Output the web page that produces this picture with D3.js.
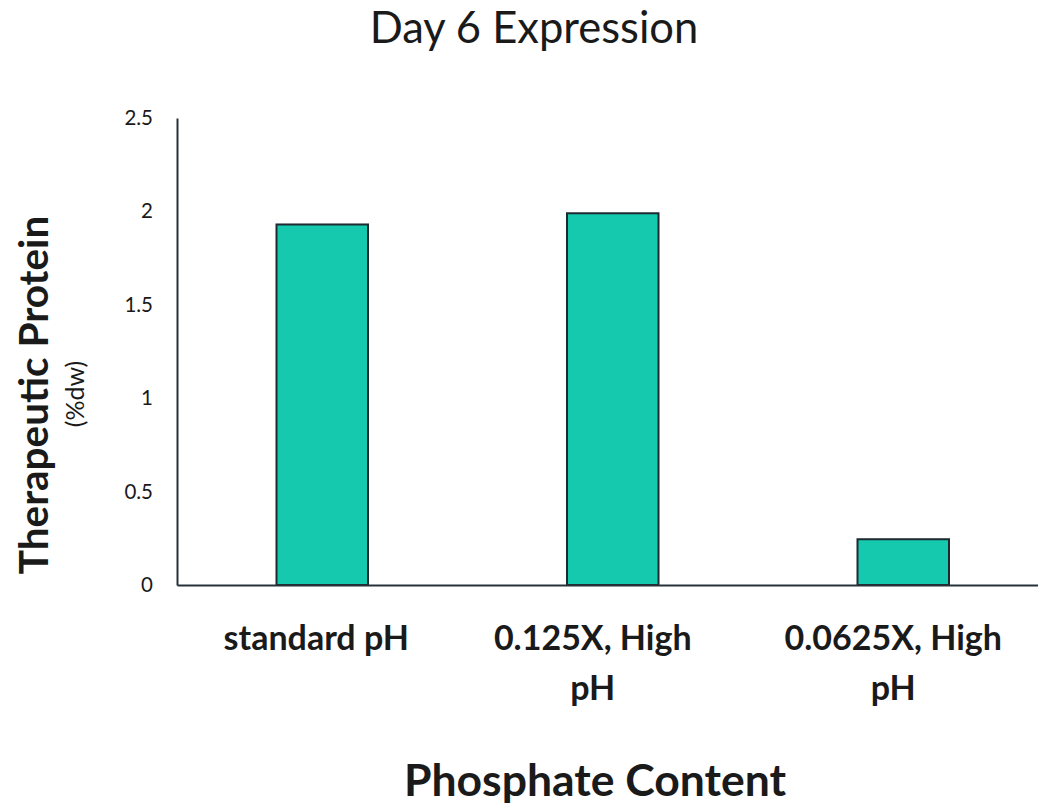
<!DOCTYPE html>
<html>
<head>
<meta charset="utf-8">
<script src="https://cdn.jsdelivr.net/npm/d3@7"></script>
<style>
  html, body { margin: 0; padding: 0; background: #fff; }
  svg { display: block; font-family: Lato, "Open Sans", sans-serif; }
</style>
</head>
<body>
<svg id="chart" width="1038" height="809"></svg>
<script>
// Phosphate conditions and the day-6 protein level measured for each
const categories = ["standard pH", "0.125X, High pH", "0.0625X, High pH"];
const labelLines = [["standard pH"], ["0.125X, High", "pH"], ["0.0625X, High", "pH"]];
const proteinValues = [1.93, 1.99, 0.245];
const yTicks = [0, 0.5, 1, 1.5, 2, 2.5];

const svg = d3.select("#chart");
const ink = "#1a1a1a";
const axisColor = "#263238";
const barFill = "#14C9AE";

const plot = { left: 177, right: 1048.5, top: 118, bottom: 585 };

const x = d3.scaleBand()
  .domain(categories)
  .range([plot.left, plot.right])
  .paddingInner(0.685)
  .paddingOuter(0.3425);

const y = d3.scaleLinear()
  .domain([0, 2.5])
  .range([plot.bottom, plot.top]);

// Title
svg.append("text")
  .attr("x", 534).attr("y", 43)
  .attr("text-anchor", "middle")
  .attr("font-size", 43.5)
  .attr("fill", ink)
  .text("Day 6 Expression");

// Y axis: bare line with labels, no tick marks
const yAxis = d3.axisLeft(y)
  .tickValues(yTicks)
  .tickFormat(d3.format("~g"))
  .tickSize(0)
  .tickPadding(24);

const yG = svg.append("g")
  .attr("transform", `translate(${plot.left},0)`)
  .call(yAxis);
yG.select(".domain").attr("stroke", axisColor).attr("stroke-width", 2);
yG.selectAll(".tick text")
  .attr("font-size", 20.5)
  .attr("font-family", "Lato, sans-serif")
  .attr("fill", ink);

// Bars
svg.append("g")
  .selectAll("rect")
  .data(categories)
  .join("rect")
  .attr("x", d => x(d))
  .attr("width", x.bandwidth())
  .attr("y", (d, i) => y(proteinValues[i]))
  .attr("height", (d, i) => y(0) - y(proteinValues[i]))
  .attr("fill", barFill)
  .attr("stroke", "#1e2a30")
  .attr("stroke-width", 2);

// Baseline across the category axis
const xAxis = d3.axisBottom(x).tickSize(0).tickFormat("");
const xG = svg.append("g")
  .attr("transform", `translate(0,${plot.bottom})`)
  .call(xAxis);
xG.select(".domain").attr("stroke", axisColor).attr("stroke-width", 2);

// Category labels, wrapped onto two lines where needed
const labelShift = [-6, -20, -10];
const catLabels = svg.append("g")
  .selectAll("text")
  .data(categories)
  .join("text")
  .attr("y", 650)
  .attr("text-anchor", "middle")
  .attr("font-size", 34)
  .attr("font-weight", "bold")
  .attr("fill", ink);
catLabels.selectAll("tspan")
  .data((d, i) => labelLines[i].map(t => ({ t, cx: x(d) + x.bandwidth() / 2 + labelShift[i] })))
  .join("tspan")
  .attr("x", d => d.cx)
  .attr("dy", (d, i) => i === 0 ? 0 : 50)
  .text(d => d.t);

// Axis titles
svg.append("text")
  .attr("x", 595).attr("y", 796)
  .attr("text-anchor", "middle")
  .attr("font-size", 44.5)
  .attr("font-weight", "bold")
  .attr("fill", ink)
  .text("Phosphate Content");

svg.append("text")
  .attr("transform", "translate(48,395) rotate(-90)")
  .attr("text-anchor", "middle")
  .attr("font-size", 40.5)
  .attr("font-weight", "bold")
  .attr("fill", ink)
  .text("Therapeutic Protein");

svg.append("text")
  .attr("transform", "translate(84,394) rotate(-90)")
  .attr("text-anchor", "middle")
  .attr("font-size", 25)
  .attr("fill", ink)
  .text("(%dw)");
</script>
</body>
</html>
